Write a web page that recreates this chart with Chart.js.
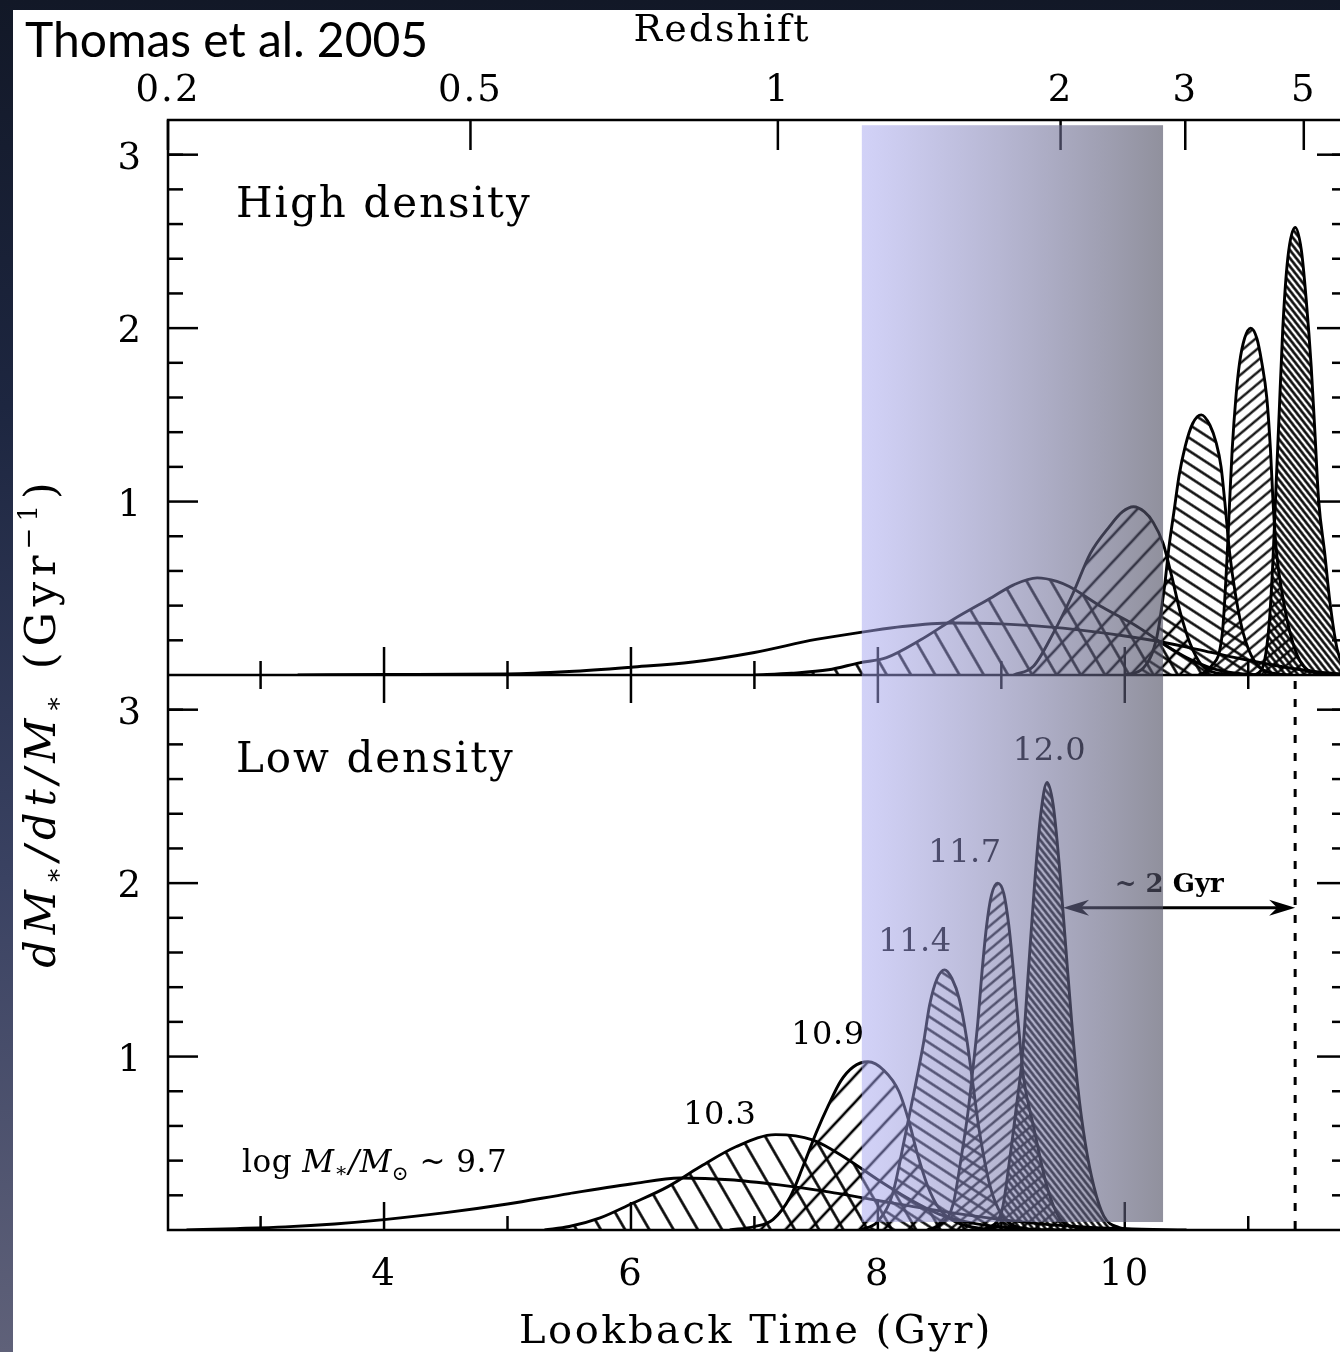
<!DOCTYPE html>
<html>
<head>
<meta charset="utf-8">
<script src="https://cdn.jsdelivr.net/npm/chart.js@4.4.1/dist/chart.umd.min.js"></script>
<style>
  html, body { margin: 0; padding: 0; width: 1340px; height: 1352px; overflow: hidden; }
  body { background: linear-gradient(to bottom, #121827 0%, #1d2640 30%, #3a4262 65%, #5f6179 100%); }
  #wrap { position: absolute; left: 0; top: 0; width: 1400px; height: 1352px; }
</style>
</head>
<body>
<div id="wrap"><canvas id="c" width="1400" height="1352"></canvas></div>
<script>
// ---- axes ----
const xRange = [2.25, 11.8];           // lookback time (Gyr)
const yRange = [0, 3.2];               // dM*/dt/M* (Gyr^-1)
const xMajorTicks = [4, 6, 8, 10];
const xMinorTicks = [3, 5, 7, 9, 11];
const yMajorTicks = [1, 2, 3];
const yMinorTicks = [0.2, 0.4, 0.6, 0.8, 1.2, 1.4, 1.6, 1.8, 2.2, 2.4, 2.6, 2.8, 3.0];
const redshiftLabels = ['0.2', '0.5', '1', '2', '3', '5'];
const redshiftLookback = [2.25, 4.70, 7.19, 9.48, 10.49, 11.45];

// ---- galaxy masses (log M*/Msun) ----
const massLabels = ['9.7', '10.3', '10.9', '11.4', '11.7', '12.0'];

// ---- star formation histories, high density: [lookback Gyr, rate] ----
const high97 = [[3.3,0],[4.0,0.003],[5.0,0.006],[5.5,0.02],[6.0,0.045],[6.5,0.075],[7.0,0.13],[7.5,0.205],[7.9,0.25],[8.2,0.28],[8.6,0.3],[9.0,0.295],[9.5,0.27],[10.0,0.225],[10.3,0.19],[10.7,0.13],[11.0,0.085],[11.3,0.045],[11.6,0.015],[11.8,0.005]];
const high103 = [[7.0,0],[7.3,0.01],[7.6,0.03],[7.85,0.07],[8.07,0.1],[8.34,0.2],[8.61,0.32],[8.93,0.45],[9.1,0.52],[9.29,0.56],[9.45,0.54],[9.55,0.51],[9.82,0.39],[10.1,0.28],[10.31,0.18],[10.5,0.1],[10.7,0.04],[10.9,0.01],[11.1,0]];
const high109 = [[9.1,0],[9.26,0.05],[9.42,0.24],[9.58,0.47],[9.72,0.7],[9.88,0.86],[9.98,0.94],[10.07,0.97],[10.16,0.94],[10.23,0.88],[10.31,0.76],[10.38,0.57],[10.45,0.36],[10.53,0.18],[10.62,0.06],[10.75,0.01],[10.9,0]];
const high114 = [[10.0,0],[10.15,0.04],[10.26,0.22],[10.32,0.5],[10.36,0.75],[10.4,0.95],[10.44,1.15],[10.49,1.32],[10.55,1.45],[10.62,1.5],[10.69,1.44],[10.74,1.34],[10.78,1.2],[10.81,1.0],[10.85,0.7],[10.9,0.45],[10.96,0.24],[11.05,0.08],[11.2,0.01],[11.35,0]];
const high117 = [[10.6,0],[10.7,0.05],[10.79,0.24],[10.83,0.7],[10.85,1.01],[10.87,1.3],[10.9,1.6],[10.93,1.8],[10.97,1.94],[11.02,2.0],[11.07,1.94],[11.11,1.8],[11.15,1.6],[11.18,1.3],[11.2,1.01],[11.23,0.7],[11.28,0.45],[11.34,0.24],[11.42,0.08],[11.55,0.01],[11.7,0]];
const high120 = [[11.05,0],[11.12,0.05],[11.17,0.3],[11.2,0.66],[11.22,1.0],[11.25,1.5],[11.28,2.0],[11.32,2.4],[11.38,2.58],[11.43,2.45],[11.47,2.16],[11.51,1.78],[11.54,1.4],[11.57,1.01],[11.62,0.7],[11.66,0.43],[11.72,0.15],[11.78,0.04],[11.8,0.02]];

// ---- star formation histories, low density ----
const low97 = [[2.4,0],[2.8,0.008],[3.2,0.018],[3.6,0.035],[4.0,0.06],[4.5,0.1],[5.0,0.15],[5.5,0.21],[6.0,0.265],[6.4,0.3],[6.8,0.29],[7.2,0.26],[7.6,0.22],[8.0,0.17],[8.5,0.11],[9.0,0.06],[9.5,0.025],[10.0,0.007],[10.5,0]];
const low103 = [[5.3,0],[5.5,0.02],[5.75,0.07],[6.0,0.15],[6.3,0.25],[6.55,0.36],[6.85,0.48],[7.17,0.55],[7.47,0.52],[7.75,0.41],[8.0,0.29],[8.25,0.18],[8.5,0.09],[8.8,0.035],[9.2,0.005],[9.5,0]];
const low109 = [[6.8,0],[7.0,0.02],[7.15,0.06],[7.29,0.19],[7.39,0.36],[7.5,0.56],[7.6,0.72],[7.7,0.86],[7.8,0.94],[7.92,0.97],[8.05,0.92],[8.17,0.8],[8.25,0.63],[8.32,0.44],[8.4,0.26],[8.5,0.12],[8.65,0.04],[8.85,0.008],[9.0,0]];
const low114 = [[7.85,0],[8.0,0.05],[8.12,0.21],[8.22,0.54],[8.3,0.82],[8.37,1.08],[8.42,1.3],[8.48,1.45],[8.54,1.5],[8.6,1.45],[8.66,1.33],[8.72,1.1],[8.77,0.84],[8.82,0.58],[8.91,0.25],[9.0,0.09],[9.1,0.025],[9.3,0]];
const low117 = [[8.4,0],[8.52,0.04],[8.61,0.15],[8.68,0.44],[8.73,0.68],[8.77,0.93],[8.81,1.2],[8.84,1.46],[8.88,1.75],[8.92,1.93],[8.97,2.0],[9.02,1.94],[9.06,1.76],[9.1,1.48],[9.14,1.17],[9.18,0.88],[9.26,0.6],[9.37,0.25],[9.47,0.07],[9.6,0.015],[9.8,0]];
const low120 = [[8.85,0],[9.0,0.1],[9.07,0.42],[9.12,0.7],[9.17,1.0],[9.22,1.5],[9.27,2.0],[9.32,2.4],[9.37,2.58],[9.42,2.45],[9.47,2.1],[9.52,1.65],[9.57,1.2],[9.62,0.82],[9.68,0.5],[9.75,0.25],[9.83,0.08],[9.95,0.015],[10.1,0]];

const highCurves = [high97, high103, high109, high114, high117, high120];
const lowCurves = [low97, low103, low109, low114, low117, low120];

// ---- annotations (lookback Gyr, rate) ----
const massLabelPos = [[2.85, 0.335], [6.72, 0.61], [7.595, 1.07], [8.30, 1.61], [8.705, 2.12], [9.39, 2.71]];
const panelLabelPos = [2.80, 2.64];
const bandLookback = [7.87, 10.31];
const bandLevels = [3.17, 0.046];      // top (high panel), bottom (low panel)
const arrowSpan = [9.50, 11.38];
const arrowLevel = 1.858;
const arrowTextPos = [10.36, 1.95];
const formationEdge = 11.38;

// ---- hatch fills: [angle deg, spacing px, line width px] ----
const hatchStyle = {
  '9.7': null,
  '10.3': [60, 21, 2.6],
  '10.9': [-47, 18, 2.6],
  '11.4': [33, 11, 2.4],
  '11.7': [-40, 9, 2.2],
  '12.0': [52, 5, 2.5]
};

const canvas = document.getElementById('c');
const ctx = canvas.getContext('2d');
const SERIF = '"DejaVu Serif", "Liberation Serif", serif';

function hatch(angle, spacing, lw) {
  const t = document.createElement('canvas');
  t.width = 32; t.height = spacing;
  const g = t.getContext('2d');
  g.fillStyle = '#000';
  g.fillRect(0, (spacing - lw) / 2, 32, lw);
  const p = ctx.createPattern(t, 'repeat');
  p.setTransform(new DOMMatrix().rotate(angle));
  return p;
}

function makeSet(points, mass, axis) {
  const st = hatchStyle[mass];
  return {
    label: mass,
    xAxisID: 'x',
    yAxisID: axis,
    data: points.map(([x, y]) => ({ x, y })),
    borderColor: '#000',
    borderWidth: 2.9,
    backgroundColor: st ? hatch(st[0], st[1], st[2]) : 'rgba(0,0,0,0)',
    fill: st ? 'origin' : false,
    pointRadius: 0,
    cubicInterpolationMode: 'monotone'
  };
}

const datasets = [];
highCurves.forEach((pts, i) => datasets.push(makeSet(pts, massLabels[i], 'yTop')));
lowCurves.forEach((pts, i) => datasets.push(makeSet(pts, massLabels[i], 'yBot')));

const hidden = { grid: { display: false }, border: { display: false }, ticks: { display: false } };

function seg(c, x1, y1, x2, y2) {
  c.beginPath(); c.moveTo(x1, y1); c.lineTo(x2, y2); c.stroke();
}

// draws a run of text pieces [text, font, dy] starting at x along a baseline
function runs(c, parts, x, y, align) {
  let total = 0;
  for (const p of parts) { c.font = p[1]; total += c.measureText(p[0]).width; }
  let cx = align === 'center' ? x - total / 2 : x;
  c.textAlign = 'left';
  for (const p of parts) {
    c.font = p[1];
    c.fillText(p[0], cx, y + (p[2] || 0));
    cx += c.measureText(p[0]).width;
  }
}

function arrowHead(c, tipX, y, dir) {
  c.beginPath();
  c.moveTo(tipX, y);
  c.lineTo(tipX - dir * 26, y - 8);
  c.lineTo(tipX - dir * 18, y);
  c.lineTo(tipX - dir * 26, y + 8);
  c.closePath();
  c.fill();
}

const decor = {
  id: 'decor',
  beforeDraw(chart) {
    const c = chart.ctx;
    c.save();
    c.fillStyle = '#fff';
    c.fillRect(13, 10, chart.width, chart.height);
    c.restore();
  },
  afterDatasetsDraw(chart) {
    const c = chart.ctx;
    const a = chart.chartArea;
    const sx = chart.scales.x;
    const yT = chart.scales.yTop, yB = chart.scales.yBot;
    const mid = yT.bottom;
    c.save();
    c.strokeStyle = '#000';
    c.fillStyle = '#000';
    c.lineWidth = 2.5;

    // frame and panel divider
    c.strokeRect(a.left, a.top, a.right - a.left, a.bottom - a.top);
    seg(c, a.left, mid, a.right, mid);

    // y ticks, both sides, both panels
    for (const s of [yT, yB]) {
      for (const v of yMajorTicks) {
        const p = s.getPixelForValue(v);
        seg(c, a.left, p, a.left + 30, p);
        seg(c, a.right - 30, p, a.right, p);
      }
      for (const v of yMinorTicks) {
        const p = s.getPixelForValue(v);
        seg(c, a.left, p, a.left + 15, p);
        seg(c, a.right - 15, p, a.right, p);
      }
    }
    // lookback ticks
    for (const v of xMajorTicks) {
      const p = sx.getPixelForValue(v);
      seg(c, p, a.bottom, p, a.bottom - 28);
      seg(c, p, mid - 28, p, mid + 28);
    }
    for (const v of xMinorTicks) {
      const p = sx.getPixelForValue(v);
      seg(c, p, a.bottom, p, a.bottom - 14);
      seg(c, p, mid - 14, p, mid + 14);
    }
    // redshift ticks
    for (const v of redshiftLookback) {
      const p = sx.getPixelForValue(v);
      seg(c, p, a.top, p, a.top + 30);
    }

    // tick labels
    c.font = '37px ' + SERIF;
    c.letterSpacing = '2px';
    c.textBaseline = 'alphabetic';
    c.textAlign = 'right';
    for (const s of [yT, yB]) {
      for (const v of yMajorTicks) c.fillText(String(v), a.left - 25, s.getPixelForValue(v) + 14);
    }
    c.textAlign = 'center';
    for (const v of xMajorTicks) c.fillText(String(v), sx.getPixelForValue(v), a.bottom + 55);
    redshiftLookback.forEach((v, i) => c.fillText(redshiftLabels[i], sx.getPixelForValue(v), a.top - 19));

    // axis titles
    c.font = '38px ' + SERIF;
    c.fillText('Redshift', 722, 41);
    c.font = '40px ' + SERIF;
    c.letterSpacing = '2.5px';
    c.fillText('Lookback Time (Gyr)', 756, 1343);

    c.save();
    c.translate(55, 722);
    c.rotate(-Math.PI / 2);
    c.letterSpacing = '6px';
    const it = 'italic 43px ' + SERIF, rm = '43px ' + SERIF, sm = '26px ' + SERIF;
    runs(c, [['dM', it], ['∗', sm, 7], ['/dt/M', it], ['∗', sm, 7], [' (Gyr', rm], ['−1', sm, -18], [')', rm]], 0, 0, 'center');
    c.restore();

    // citation
    c.letterSpacing = '0px';
    c.font = '48px Lato, "Open Sans", sans-serif';
    c.textAlign = 'left';
    c.fillText('Thomas et al. 2005', 25, 57);

    // panel labels
    c.font = '42px ' + SERIF;
    c.letterSpacing = '2px';
    const px = sx.getPixelForValue(panelLabelPos[0]);
    c.fillText('High density', px, yT.getPixelForValue(panelLabelPos[1]));
    c.fillText('Low density', px, yB.getPixelForValue(panelLabelPos[1]));

    // mass labels (low-density panel)
    c.font = '32px ' + SERIF;
    c.letterSpacing = '0.5px';
    c.textAlign = 'center';
    for (let i = 1; i < massLabels.length; i++) {
      c.fillText(massLabels[i], sx.getPixelForValue(massLabelPos[i][0]), yB.getPixelForValue(massLabelPos[i][1]));
    }
    const it2 = 'italic 31px ' + SERIF, rm2 = '31px ' + SERIF, sm2 = '20px ' + SERIF;
    runs(c, [['log ', rm2], ['M', it2], ['∗', sm2, 5], ['/M', it2], ['⊙', sm2, 8], [' ~ ' + massLabels[0], rm2]],
      sx.getPixelForValue(massLabelPos[0][0]), yB.getPixelForValue(massLabelPos[0][1]), 'left');

    // formation epoch of the most massive galaxies, low density
    const dx = sx.getPixelForValue(formationEdge);
    c.save();
    c.lineWidth = 3;
    c.setLineDash([8, 10]);
    seg(c, dx, mid + 6, dx, a.bottom);
    c.restore();

    // ~2 Gyr delay arrow
    const ay = yB.getPixelForValue(arrowLevel);
    const ax1 = sx.getPixelForValue(arrowSpan[0]), ax2 = sx.getPixelForValue(arrowSpan[1]);
    c.lineWidth = 2.8;
    seg(c, ax1 + 10, ay, ax2 - 10, ay);
    arrowHead(c, ax1, ay, -1);
    arrowHead(c, ax2, ay, 1);
    c.font = 'bold 26px ' + SERIF;
    c.letterSpacing = '0px';
    c.textAlign = 'center';
    c.fillText('~ 2 Gyr', sx.getPixelForValue(arrowTextPos[0]), yB.getPixelForValue(arrowTextPos[1]));

    // highlighted epoch band
    const bx1 = sx.getPixelForValue(bandLookback[0]), bx2 = sx.getPixelForValue(bandLookback[1]);
    const by1 = yT.getPixelForValue(bandLevels[0]), by2 = yB.getPixelForValue(bandLevels[1]);
    const grad = c.createLinearGradient(bx1, 0, bx2, 0);
    grad.addColorStop(0, 'rgba(165,165,240,0.50)');
    grad.addColorStop(1, 'rgba(80,80,100,0.63)');
    c.fillStyle = grad;
    c.fillRect(bx1, by1, bx2 - bx1, by2 - by1);

    c.restore();
  }
};

new Chart(canvas, {
  type: 'line',
  data: { datasets },
  options: {
    responsive: false,
    animation: false,
    events: [],
    layout: { padding: { left: 0, top: 0, right: 53, bottom: 0 } },
    plugins: { legend: { display: false }, tooltip: { enabled: false } },
    scales: {
      x: { type: 'linear', position: 'bottom', min: xRange[0], max: xRange[1], ...hidden,
           afterFit(s) { s.height = 122; } },
      xTop: { type: 'linear', position: 'top', min: xRange[0], max: xRange[1], ...hidden,
              afterFit(s) { s.height = 120; } },
      yTop: { type: 'linear', position: 'left', stack: 'panels', stackWeight: 1, weight: 1,
              min: yRange[0], max: yRange[1], ...hidden, afterFit(s) { s.width = 168; } },
      yBot: { type: 'linear', position: 'left', stack: 'panels', stackWeight: 1, weight: 0,
              min: yRange[0], max: yRange[1], ...hidden, afterFit(s) { s.width = 168; } }
    }
  },
  plugins: [decor]
});
</script>
</body>
</html>
